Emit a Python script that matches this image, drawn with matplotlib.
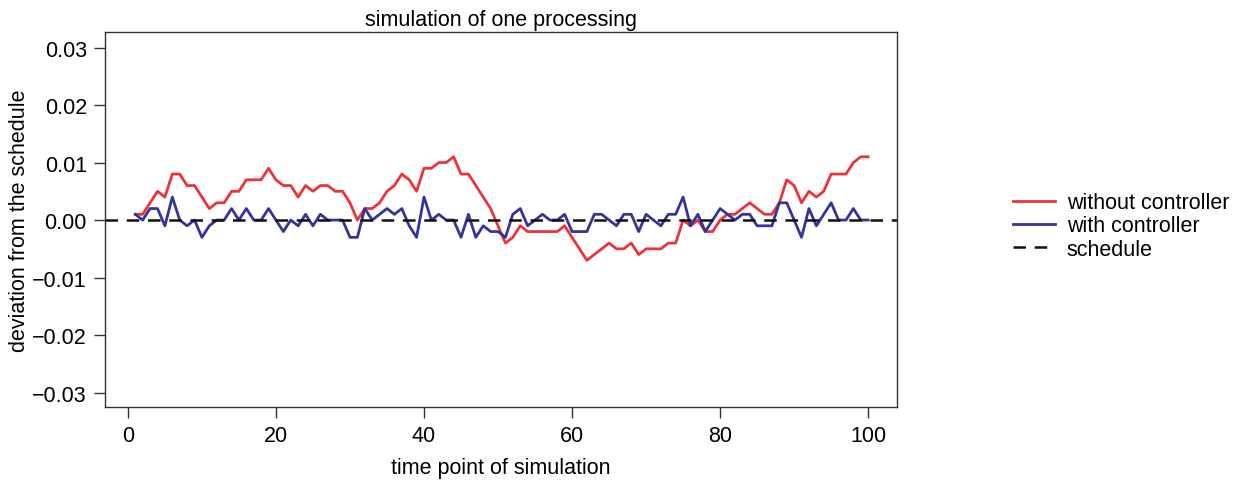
import numpy as np
import matplotlib
matplotlib.use("Agg")
import matplotlib.pyplot as plt

plt.rcParams["font.family"] = ["Liberation Sans", "DejaVu Sans"]

# time points of the simulation run
time_point = np.arange(1, 101)

# deviation from the schedule, in units of 0.001
without_controller = [
    1, 1, 3, 5, 4, 8, 8, 6, 6, 4,
    2, 3, 3, 5, 5, 7, 7, 7, 9, 7,
    6, 6, 4, 6, 5, 6, 6, 5, 5, 3,
    0, 2, 2, 3, 5, 6, 8, 7, 5, 9,
    9, 10, 10, 11, 8, 8, 6, 4, 2, -1,
    -4, -3, -1, -2, -2, -2, -2, -2, -1, -3,
    -5, -7, -6, -5, -4, -5, -5, -4, -6, -5,
    -5, -5, -4, -4, 0, -1, 0, -2, -2, 0,
    1, 1, 2, 3, 2, 1, 1, 3, 7, 6,
    3, 5, 4, 5, 8, 8, 8, 10, 11, 11,
]
with_controller = [
    1, 0, 2, 2, -1, 4, 0, -1, 0, -3,
    -1, 0, 0, 2, 0, 2, 0, 0, 2, 0,
    -2, 0, -1, 1, -1, 1, 0, 0, 0, -3,
    -3, 2, 0, 1, 2, 1, 2, -1, -3, 4,
    0, 1, 0, 0, -3, 1, -3, -1, -2, -2,
    -3, 1, 2, -1, 0, 1, 0, 0, 1, -2,
    -2, -2, 1, 1, 0, -1, 1, 1, -2, 1,
    0, -1, 1, 1, 4, -1, 1, -2, 0, 2,
    1, 0, 1, 1, -1, -1, -1, 3, 3, 0,
    -3, 2, -1, 1, 3, 0, 0, 2, 0, 0,
]
schedule = 0.0

without_controller = np.array(without_controller) / 1000
with_controller = np.array(with_controller) / 1000

x_ticks = [0, 20, 40, 60, 80, 100]
y_ticks = [-0.03, -0.02, -0.01, 0.0, 0.01, 0.02, 0.03]
y_tick_labels = ["\u22120.03", "\u22120.02", "\u22120.01", "0.00", "0.01", "0.02", "0.03"]

fig = plt.figure(figsize=(12.39, 4.85), dpi=100)
ax = fig.add_axes([0.0847, 0.1588, 0.6393, 0.7732])

ax.plot(time_point, without_controller, color="#ee3338", lw=2.0, label="without controller")
ax.plot(time_point, with_controller, color="#34349a", lw=2.0, label="with controller")
ax.axhline(schedule, color="#111111", lw=1.8, ls=(0, (5, 3.5)), label="schedule")

ax.set_xlim(-3.1, 103.9)
ax.set_ylim(-0.0325, 0.0327)
ax.set_xticks(x_ticks)
ax.set_yticks(y_ticks)
ax.set_yticklabels(y_tick_labels)
ax.tick_params(direction="out", length=8, width=1, labelsize=15.5, pad=5, color="#333333")
for s in ax.spines.values():
    s.set_linewidth(1)
    s.set_color("#333333")

ax.set_title("simulation of one processing", fontsize=15.5, pad=5)
ax.set_xlabel("time point of simulation", fontsize=15.5, labelpad=8)
ax.set_ylabel("deviation from the schedule", fontsize=15.5, labelpad=1.5)

fig.legend(loc="center left", bbox_to_anchor=(0.809, 0.532), frameon=False,
           fontsize=15.5, handlelength=1.95, handletextpad=0.55, labelspacing=0.1,
           borderpad=0)

fig.savefig("out.png", dpi=100)
